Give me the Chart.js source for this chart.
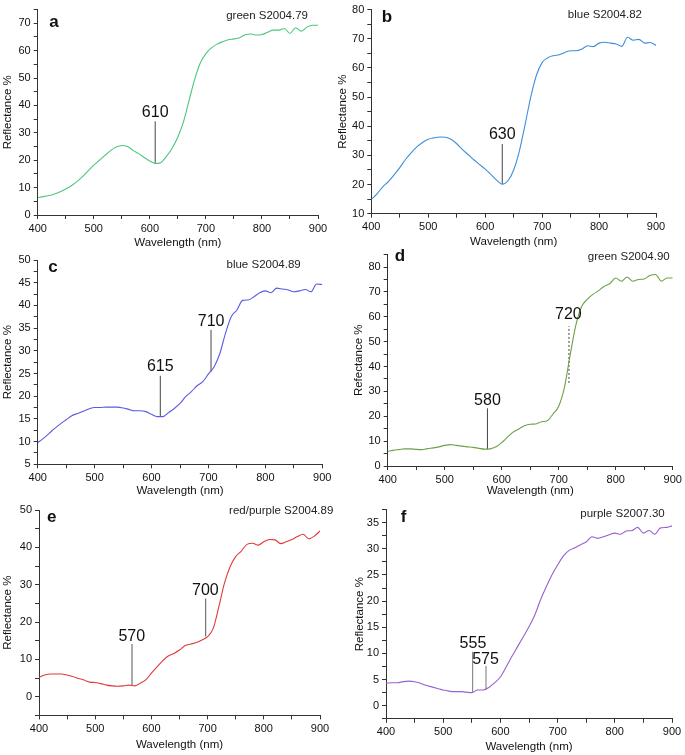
<!DOCTYPE html>
<html>
<head>
<meta charset="utf-8">
<script src="https://cdn.jsdelivr.net/npm/chart.js@4.4.0/dist/chart.umd.min.js"></script>
<style>
  body { margin: 0; background: #fff; width: 685px; height: 755px; position: relative; overflow: hidden; }
  canvas { position: absolute; }
</style>
</head>
<body>
<canvas id="chartA"></canvas>
<canvas id="chartB"></canvas>
<canvas id="chartC"></canvas>
<canvas id="chartD"></canvas>
<canvas id="chartE"></canvas>
<canvas id="chartF"></canvas>
<script>
// wavelength grid (nm)
const wavelength = [
  400, 410, 420, 430, 440, 450, 460, 470, 480, 490,
  500, 510, 520, 530, 540, 550, 560, 570, 580, 590,
  600, 610, 620, 630, 640, 650, 660, 670, 680, 690,
  700, 710, 720, 730, 740, 750, 760, 770, 780, 790,
  800, 810, 820, 830, 840, 850, 860, 870, 880, 890,
  900
];

// reflectance % for each sample
const reflA = [
  6.4, 6.7, 7.1, 7.7, 8.5, 9.5, 10.7, 12.2, 14.0, 16.1,
  18.2, 20.0, 21.8, 23.5, 24.8, 25.4, 25.0, 23.6, 22.4, 21.0,
  19.7, 18.8, 19.2, 21.5, 24.5, 28.5, 34.0, 41.8, 49.5, 55.5,
  58.9, 61.0, 62.4, 63.3, 64.0, 64.3, 64.7, 65.8, 66.1, 65.7,
  65.9, 66.7, 67.5, 67.5, 68.1, 66.3, 68.4, 67.1, 68.6, 69.3,
  69.3
];
const reflB = [
  14.9, 16.8, 19.2, 21.0, 23.3, 25.8, 28.6, 30.9, 32.9, 34.4,
  35.5, 36.0, 36.3, 36.2, 35.5, 34.0, 32.0, 30.3, 28.5, 26.9,
  25.3, 23.5, 21.5, 20.1, 21.3, 25.0, 31.5, 40.5, 50.0, 57.5,
  61.8, 63.5, 64.2, 64.5, 65.3, 65.9, 65.9, 66.5, 67.6, 67.3,
  68.5, 68.8, 68.5, 68.2, 67.4, 70.5, 69.5, 69.8, 68.5, 68.7,
  67.7
];
const reflC = [
  9.8, 10.7, 11.8, 12.9, 13.9, 14.8, 15.7, 16.2, 16.7, 17.2,
  17.5, 17.5, 17.6, 17.6, 17.6, 17.4, 17.1, 16.8, 16.8, 16.6,
  16.0, 15.5, 15.5, 16.4, 17.3, 18.4, 19.9, 21.0, 22.3, 23.2,
  24.9, 26.5, 29.4, 33.9, 37.5, 39.0, 41.1, 41.2, 41.9, 42.8,
  43.2, 42.8, 43.8, 43.6, 43.4, 43.0, 43.2, 43.5, 43.0, 44.7,
  44.6
];
const reflD = [
  5.9, 6.3, 6.6, 6.9, 6.9, 6.7, 6.6, 7.0, 7.3, 7.7,
  8.3, 8.6, 8.3, 8.0, 7.7, 7.5, 7.1, 6.8, 6.9, 7.7,
  9.4, 11.6, 13.6, 14.9, 16.2, 16.8, 16.9, 17.8, 18.2, 20.9,
  24.0, 31.5, 44.5, 56.5, 64.0, 67.0, 69.0, 70.5, 72.3, 73.4,
  75.6, 74.3, 76.0, 74.3, 75.0, 75.2, 76.6, 77.0, 74.3, 75.6,
  75.6
];
const reflE = [
  5.2, 5.8, 6.1, 6.1, 6.1, 5.8, 5.4, 4.9, 4.5, 3.9,
  3.8, 3.5, 3.1, 2.9, 2.8, 2.9, 3.1, 2.9, 3.6, 4.5,
  6.3, 8.0, 9.6, 10.9, 11.6, 12.5, 13.7, 14.1, 14.5, 15.2,
  16.1, 18.3, 24.1, 30.4, 34.8, 37.5, 39.0, 40.8, 41.1, 40.6,
  41.5, 42.1, 42.0, 41.0, 41.5, 42.1, 42.9, 43.5, 42.3, 43.0,
  44.4
];
const reflF = [
  4.3, 4.4, 4.4, 4.6, 4.7, 4.6, 4.3, 3.9, 3.6, 3.3,
  3.0, 2.8, 2.7, 2.7, 2.6, 2.5, 3.0, 3.0, 3.5, 4.4,
  5.5, 7.4, 9.4, 11.3, 13.2, 15.1, 17.3, 20.2, 22.7, 25.0,
  26.9, 28.6, 29.7, 30.2, 30.8, 31.3, 32.3, 32.0, 32.3, 32.7,
  33.0, 32.8, 33.4, 33.5, 34.1, 33.0, 33.5, 32.8, 34.0, 34.1,
  34.4
];

// band markers: [label, line x (nm), line from, line to, label x (nm), label y]
const marksA = [['610', 609.6, 18.8, 34.2, 609.6, 37.4]];
const marksB = [['630', 630, 20.1, 33.9, 630, 37.0]];
const marksC = [['615', 615.4, 15.5, 24.5, 615.4, 26.5], ['710', 704.5, 25.4, 34.6, 704.7, 36.4]];
const marksD = [['580', 575, 6.7, 23.2, 575, 26.1], ['720', 718, 33.4, 56.2, 717, 60.7]];
const marksE = [['570', 565.5, 3.1, 14.1, 565, 16.1], ['700', 696.6, 16.1, 26.3, 696, 28.4]];
const marksF = [['555', 551.5, 2.5, 10.3, 552, 11.8], ['575', 574.8, 3.0, 7.6, 574, 8.8]];

const FONT = '"Liberation Sans", Arial, Helvetica, sans-serif';

// Function to draw the text bits: band numbers, sample name, panel letter
const panelTextPlugin = {
    id: 'panelText',
    afterDatasetsDraw(chart, args, opts) {
        const ctx = chart.ctx;
        const xs = chart.scales.x;
        const ys = chart.scales.y;
        ctx.save();
        ctx.fillStyle = '#111';
        ctx.textAlign = 'center';
        ctx.textBaseline = 'middle';
        ctx.font = '16px ' + FONT;
        opts.marks.forEach(m => {
            ctx.fillText(m[0], xs.getPixelForValue(m[4]), ys.getPixelForValue(m[5]));
        });
        ctx.textAlign = 'right';
        ctx.font = '11.5px ' + FONT;
        ctx.fillStyle = '#222';
        ctx.fillText(opts.name, opts.nameX - opts.left, opts.nameY - opts.top);
        ctx.textAlign = 'center';
        ctx.font = 'bold 17px ' + FONT;
        ctx.fillStyle = '#111';
        ctx.fillText(opts.letter, opts.letterX - opts.left, opts.letterY - opts.top);
        ctx.restore();
    }
};

// Function to create and render one spectrum panel
function renderPanel(p) {
    const canvas = document.getElementById(p.id);
    canvas.width = p.w;
    canvas.height = p.h;
    canvas.style.left = p.left + 'px';
    canvas.style.top = p.top + 'px';

    const halfLine = 11.5 * 1.2 / 2;
    const padLeft = p.yTitleX - p.left - halfLine;
    const yWidth = p.chartLeft - p.left - padLeft;
    const xHeight = p.xTitleY + halfLine - p.chartBottom;
    const padBottom = p.top + p.h - (p.xTitleY + halfLine);

    const datasets = [{
        data: wavelength.map((w, i) => ({ x: w, y: p.values[i] })),
        borderColor: p.color,
        borderWidth: 1.1,
        pointRadius: 0,
        cubicInterpolationMode: 'monotone',
    }];
    p.marks.forEach(m => {
        datasets.push({
            data: [{ x: m[1], y: m[2] }, { x: m[1], y: m[3] }],
            borderColor: p.markColor,
            borderWidth: 1,
            borderDash: m[0] === '720' ? [2, 2] : [],
            pointRadius: 0,
        });
    });

    const isMajor = (v, step) => Math.abs(v / step - Math.round(v / step)) < 1e-6;

    new Chart(canvas.getContext('2d'), {
        type: 'line',
        data: { datasets },
        options: {
            responsive: false,
            animation: false,
            devicePixelRatio: 1,
            layout: {
                padding: {
                    left: padLeft,
                    top: p.chartTop - p.top,
                    right: p.left + p.w - p.chartRight,
                    bottom: padBottom,
                },
            },
            plugins: {
                legend: { display: false },
                tooltip: { enabled: false },
                panelText: {
                    marks: p.marks, name: p.name, nameX: p.nameX, nameY: p.nameY,
                    letter: p.letter, letterX: p.letterX, letterY: p.letterY,
                    left: p.left, top: p.top,
                },
            },
            scales: {
                x: {
                    type: 'linear',
                    min: 400,
                    max: 900,
                    afterFit: s => { s.height = xHeight; },
                    ticks: {
                        stepSize: 50,
                        autoSkip: false,
                        maxRotation: 0,
                        padding: 3,
                        color: '#111',
                        font: { family: FONT, size: 11 },
                        callback: v => isMajor(v, 100) ? String(v) : '',
                    },
                    grid: { drawOnChartArea: false, tickLength: 4, tickColor: '#333' },
                    border: { display: true, color: '#333', width: 1 },
                    title: {
                        display: true,
                        text: 'Wavelength (nm)',
                        color: '#111',
                        padding: 0,
                        font: { family: FONT, size: 11.5 },
                    },
                },
                y: {
                    min: p.yMin,
                    max: p.yMax,
                    afterFit: s => { s.width = yWidth; },
                    ticks: {
                        stepSize: p.yStep,
                        autoSkip: false,
                        padding: 3,
                        color: '#111',
                        font: { family: FONT, size: 11 },
                        callback: v => (isMajor(v, p.yMajor) && v >= p.labelMin && v <= p.labelMax) ? String(v) : '',
                    },
                    grid: { drawOnChartArea: false, tickLength: 4, tickColor: '#333' },
                    border: { display: true, color: '#333', width: 1 },
                    title: {
                        display: true,
                        text: p.yTitle,
                        color: '#111',
                        padding: 0,
                        font: { family: FONT, size: 11.5 },
                    },
                },
            },
        },
        plugins: [panelTextPlugin],
    });
}

const panels = [
    { id: 'chartA', left: 0, top: 0, w: 345, h: 250,
      chartLeft: 37.7, chartRight: 318, chartTop: 7.5, chartBottom: 215,
      yMin: 0, yMax: 75, yStep: 5, yMajor: 10, labelMin: 0, labelMax: 70,
      yTitleX: 8, xTitleY: 243, yTitle: 'Reflectance %',
      values: reflA, marks: marksA, color: '#4cc77a', markColor: '#444',
      name: 'green S2004.79', nameX: 308, nameY: 16, letter: 'a', letterX: 54, letterY: 22 },
    { id: 'chartB', left: 330, top: 0, w: 355, h: 250,
      chartLeft: 371.3, chartRight: 656, chartTop: 5.7, chartBottom: 213.7,
      yMin: 10, yMax: 80, yStep: 5, yMajor: 10, labelMin: 10, labelMax: 80,
      yTitleX: 343, xTitleY: 242, yTitle: 'Reflectance %',
      values: reflB, marks: marksB, color: '#3d8fd8', markColor: '#444',
      name: 'blue S2004.82', nameX: 642, nameY: 15, letter: 'b', letterX: 387, letterY: 17 },
    { id: 'chartC', left: 0, top: 250, w: 345, h: 250,
      chartLeft: 37.7, chartRight: 322.3, chartTop: 260, chartBottom: 464.3,
      yMin: 5, yMax: 50, yStep: 2.5, yMajor: 5, labelMin: 5, labelMax: 50,
      yTitleX: 8, xTitleY: 490.5, yTitle: 'Reflectance %',
      values: reflC, marks: marksC, color: '#5a5ae6', markColor: '#444',
      name: 'blue S2004.89', nameX: 300.7, nameY: 265, letter: 'c', letterX: 53, letterY: 267 },
    { id: 'chartD', left: 340, top: 245, w: 345, h: 255,
      chartLeft: 387.7, chartRight: 672.7, chartTop: 251.4, chartBottom: 466,
      yMin: 0, yMax: 85, yStep: 5, yMajor: 10, labelMin: 0, labelMax: 80,
      yTitleX: 358.7, xTitleY: 491, yTitle: 'Refectance %',
      values: reflD, marks: marksD, color: '#6aa346', markColor: '#444',
      name: 'green S2004.90', nameX: 669.7, nameY: 256.7, letter: 'd', letterX: 400, letterY: 256 },
    { id: 'chartE', left: 0, top: 500, w: 345, h: 255,
      chartLeft: 39, chartRight: 320, chartTop: 510, chartBottom: 715.4,
      yMin: -5, yMax: 50, yStep: 5, yMajor: 10, labelMin: 0, labelMax: 50,
      yTitleX: 8.3, xTitleY: 744.5, yTitle: 'Reflectance %',
      values: reflE, marks: marksE, color: '#e03a3a', markColor: '#555',
      name: 'red/purple S2004.89', nameX: 333.3, nameY: 510.7, letter: 'e', letterX: 51.7, letterY: 517 },
    { id: 'chartF', left: 340, top: 500, w: 345, h: 255,
      chartLeft: 386, chartRight: 672, chartTop: 509.2, chartBottom: 718.8,
      yMin: -2.5, yMax: 37.5, yStep: 2.5, yMajor: 5, labelMin: 0, labelMax: 35,
      yTitleX: 360.3, xTitleY: 747.3, yTitle: 'Reflectance %',
      values: reflF, marks: marksF, color: '#9860d0', markColor: '#777',
      name: 'purple S2007.30', nameX: 664.7, nameY: 514, letter: 'f', letterX: 403.7, letterY: 517 },
];

panels.forEach(renderPanel);
</script>
</body>
</html>
